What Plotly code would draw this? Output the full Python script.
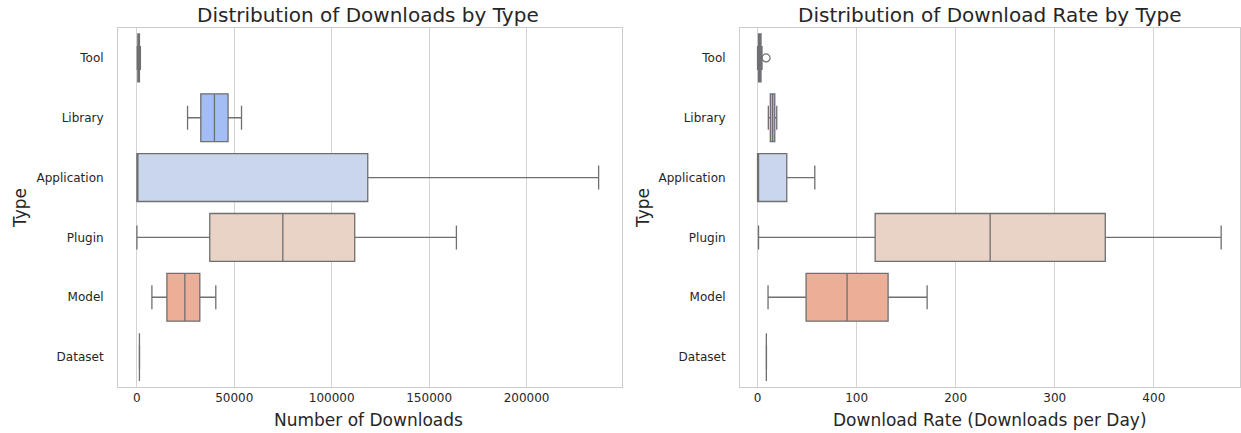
import plotly.graph_objects as go
from plotly.subplots import make_subplots

categories = ["Tool", "Library", "Application", "Plugin", "Model", "Dataset"]
colors = ["#7489d6", "#a3bdf5", "#cad6ec", "#e9d3c7", "#ecae96", "#d2705d"]

# Downloads box stats
dl_lower = [200, 26000, 0, 0, 7700, 1250]
dl_q1 = [500, 32800, 0, 37400, 15400, 1300]
dl_median = [900, 39800, 0, 74900, 24600, 1300]
dl_q3 = [1300, 46800, 118500, 111800, 32300, 1300]
dl_upper = [1800, 53700, 237000, 164000, 40500, 1350]

# Download rate box stats
rt_lower = [0, 10.9, 0, 1, 10.6, 8.8]
rt_q1 = [1.0, 12.9, 0, 118.7, 49, 8.9]
rt_median = [2.0, 15.2, 0, 234.8, 90.4, 8.9]
rt_q3 = [3.5, 17.4, 29.5, 351, 131.8, 8.9]
rt_upper = [4.5, 19.4, 57.8, 468, 171.2, 9.0]
rt_outlier_cat = ["Tool"]
rt_outlier_val = [8.6]

W, H = 1241, 433
fig = make_subplots(rows=1, cols=2)

line_col = "#6f6f6f"
for i, c in enumerate(categories):
    fig.add_trace(go.Box(y=[c], q1=[dl_q1[i]], median=[dl_median[i]], q3=[dl_q3[i]],
                         lowerfence=[dl_lower[i]], upperfence=[dl_upper[i]],
                         orientation="h", fillcolor=colors[i], width=0.8, whiskerwidth=0.5,
                         line=dict(color=line_col, width=1.3), boxpoints=False,
                         showlegend=False, hoverinfo="x"), row=1, col=1)
    fig.add_trace(go.Box(y=[c], q1=[rt_q1[i]], median=[rt_median[i]], q3=[rt_q3[i]],
                         lowerfence=[rt_lower[i]], upperfence=[rt_upper[i]],
                         orientation="h", fillcolor=colors[i], width=0.8, whiskerwidth=0.5,
                         line=dict(color=line_col, width=1.3), boxpoints=False,
                         showlegend=False, hoverinfo="x"), row=1, col=2)

fig.add_trace(go.Scatter(x=rt_outlier_val, y=rt_outlier_cat, mode="markers",
                         marker=dict(symbol="circle-open", size=8, color=line_col, line=dict(width=1.2)),
                         showlegend=False), row=1, col=2)

def px_x(p):
    return p / W

def px_y(p):
    return 1 - p / H

grid = "#d3d3d3"
spine = "#cccccc"
tickfont = dict(family="DejaVu Sans", size=12, color="#262626")

fig.update_layout(
    width=W, height=H, margin=dict(l=0, r=0, t=0, b=0),
    plot_bgcolor="white", paper_bgcolor="white", boxmode="overlay",
    font=dict(family="DejaVu Sans", color="#262626"),
    xaxis=dict(domain=[px_x(118), px_x(622)], range=[-9700, 249000],
               tickvals=[0, 50000, 100000, 150000, 200000],
               ticktext=["0", "50000", "100000", "150000", "200000"],
               showgrid=True, gridcolor=grid, gridwidth=1, zeroline=False,
               showline=True, linecolor=spine, mirror=True, ticks="", tickfont=tickfont),
    xaxis2=dict(domain=[px_x(740), px_x(1240)], range=[-17.7, 487],
                tickvals=[0, 100, 200, 300, 400],
                showgrid=True, gridcolor=grid, gridwidth=1, zeroline=False,
                showline=True, linecolor=spine, mirror=True, ticks="", tickfont=tickfont),
    yaxis=dict(domain=[px_y(387), px_y(28)], type="category", categoryorder="array",
               categoryarray=categories, range=[5.5, -0.5], showgrid=False,
               showline=True, linecolor=spine, mirror=True, ticks="", tickfont=tickfont,
               ticklabelstandoff=11),
    yaxis2=dict(domain=[px_y(387), px_y(28)], type="category", categoryorder="array",
                categoryarray=categories, range=[5.5, -0.5], showgrid=False,
                showline=True, linecolor=spine, mirror=True, ticks="", tickfont=tickfont,
                ticklabelstandoff=11),
)

ann_font_title = dict(family="DejaVu Sans", size=20, color="#262626")
ann_font_lab = dict(family="DejaVu Sans", size=17, color="#262626")
annotations = [
    dict(text="Distribution of Downloads by Type", x=px_x(368), y=px_y(15), font=ann_font_title),
    dict(text="Distribution of Download Rate by Type", x=px_x(990), y=px_y(15), font=ann_font_title),
    dict(text="Number of Downloads", x=px_x(368), y=px_y(420), font=ann_font_lab),
    dict(text="Download Rate (Downloads per Day)", x=px_x(990), y=px_y(420), font=ann_font_lab),
    dict(text="Type", x=px_x(20), y=px_y(208), font=ann_font_lab, textangle=-90),
    dict(text="Type", x=px_x(643), y=px_y(208), font=ann_font_lab, textangle=-90),
]
for a in annotations:
    a.update(xref="paper", yref="paper", showarrow=False, xanchor="center", yanchor="middle")
fig.update_layout(annotations=annotations)

fig.write_html("out.html", config={"displayModeBar": False},
               post_script="document.body.style.margin='0';document.body.style.overflow='hidden';")
